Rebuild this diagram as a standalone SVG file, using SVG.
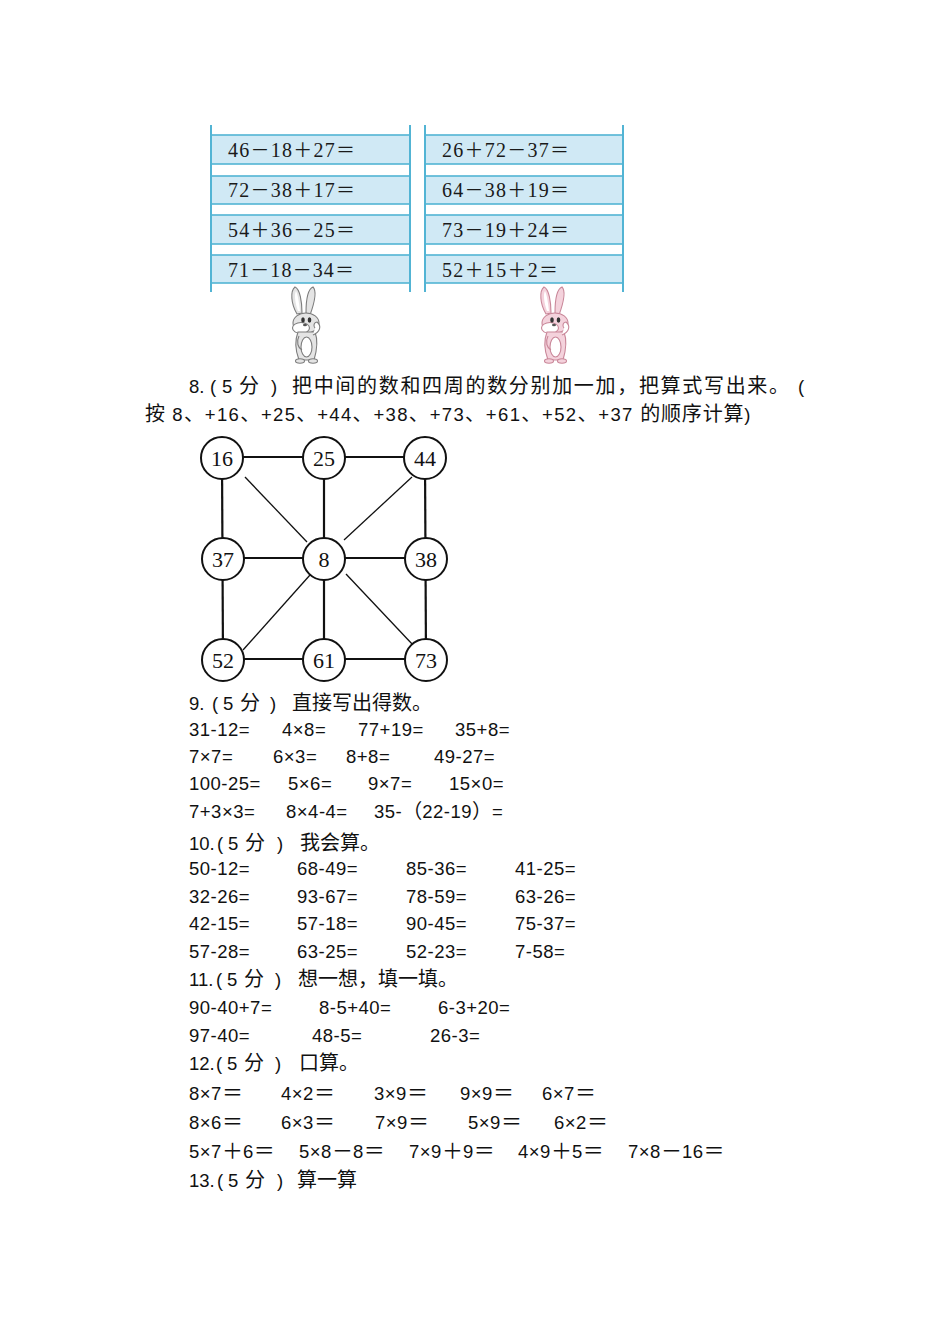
<svg xmlns="http://www.w3.org/2000/svg" xmlns:xlink="http://www.w3.org/1999/xlink" width="950" height="1344" viewBox="0 0 950 1344">
<style>
.band{fill:#d0e9f5;stroke:#52b4d4;stroke-width:1.6}
.vline{stroke:#52b4d4;stroke-width:2}
.tx{font-family:"Liberation Serif","Noto Sans CJK SC",serif;font-size:20px;fill:#1a1a1a}
.op{font-family:"Noto Sans CJK SC",sans-serif;font-size:19px}
.body{font-family:"Liberation Sans","Noto Sans CJK SC",sans-serif;font-size:18.5px;letter-spacing:0.5px;fill:#111}
.hd{letter-spacing:0}
.cjk{font-family:"Noto Sans CJK SC",sans-serif;font-size:20px;letter-spacing:0}
.fw{font-family:"Noto Sans CJK SC",sans-serif;font-size:21px;letter-spacing:0}
.thick{stroke:#111;stroke-width:2.2}
.thin{stroke:#111;stroke-width:1.3}
.node circle{fill:#fff;stroke:#111;stroke-width:2}
.node text{font-family:"Liberation Serif",serif;font-size:22px;text-anchor:middle;fill:#111}
</style>
<defs>
<g id="rabbit">
<path d="M10,28 C4,18 3,5 8,1 C13,3 15,16 15,27 Z"/>
<path d="M11,25 C8,17 7,8 9,5 C11,9 12,17 13,25 Z" fill="#fff" stroke="none"/>
<path d="M19,27 C19,14 21,3 26,1 C30,5 27,18 23,29 Z"/>
<ellipse cx="19" cy="37" rx="13" ry="10"/>
<ellipse cx="14" cy="42" rx="8.5" ry="5.5" fill="#fff"/>
<ellipse cx="16" cy="34" rx="1.8" ry="2.8" fill="#333" stroke="none"/>
<ellipse cx="22.5" cy="34" rx="1.8" ry="2.8" fill="#333" stroke="none"/>
<ellipse cx="18" cy="39" rx="2" ry="1.3" fill="#555" stroke="none"/>
<path d="M11,46 C7,56 9,66 12,74 L27,74 C30,64 31,54 28,46 Z"/>
<ellipse cx="19.5" cy="61" rx="5.5" ry="10" fill="#fff"/>
<path d="M26,49 C33,46 35,40 30,36 C27,36 26,40 28,42" fill="#fff"/>
<path d="M12,50 C9,56 11,62 15,64" fill="none"/>
<ellipse cx="13" cy="75" rx="4.5" ry="2.2"/>
<ellipse cx="26" cy="75" rx="4.5" ry="2.2"/>
</g>
</defs>
<rect width="950" height="1344" fill="#fff"/>

<g id="table-left">
<rect class="band" x="211" y="135" width="199" height="29"/>
<rect class="band" x="211" y="176" width="199" height="28"/>
<rect class="band" x="211" y="215" width="199" height="29"/>
<rect class="band" x="211" y="255" width="199" height="28"/>
<line class="vline" x1="211" y1="125" x2="211" y2="292"/>
<line class="vline" x1="410" y1="125" x2="410" y2="292"/>
<text class="tx" x="228" y="157" textLength="127">46<tspan class="op">－</tspan>18<tspan class="op">＋</tspan>27<tspan class="op">＝</tspan></text>
<text class="tx" x="228" y="197" textLength="127">72<tspan class="op">－</tspan>38<tspan class="op">＋</tspan>17<tspan class="op">＝</tspan></text>
<text class="tx" x="228" y="237" textLength="127">54<tspan class="op">＋</tspan>36<tspan class="op">－</tspan>25<tspan class="op">＝</tspan></text>
<text class="tx" x="228" y="277" textLength="126">71<tspan class="op">－</tspan>18<tspan class="op">－</tspan>34<tspan class="op">＝</tspan></text>
</g>
<g id="table-right">
<rect class="band" x="425" y="135" width="198" height="29"/>
<rect class="band" x="425" y="176" width="198" height="28"/>
<rect class="band" x="425" y="215" width="198" height="29"/>
<rect class="band" x="425" y="255" width="198" height="28"/>
<line class="vline" x1="425" y1="125" x2="425" y2="292"/>
<line class="vline" x1="623" y1="125" x2="623" y2="292"/>
<text class="tx" x="442" y="157" textLength="127">26<tspan class="op">＋</tspan>72<tspan class="op">－</tspan>37<tspan class="op">＝</tspan></text>
<text class="tx" x="442" y="197" textLength="127">64<tspan class="op">－</tspan>38<tspan class="op">＋</tspan>19<tspan class="op">＝</tspan></text>
<text class="tx" x="442" y="237" textLength="127">73<tspan class="op">－</tspan>19<tspan class="op">＋</tspan>24<tspan class="op">＝</tspan></text>
<text class="tx" x="442" y="277" textLength="116">52<tspan class="op">＋</tspan>15<tspan class="op">＋</tspan>2<tspan class="op">＝</tspan></text>
</g>
<g id="rabbit-gray"><use xlink:href="#rabbit" href="#rabbit" x="287" y="286" fill="#e4e4e4" stroke="#7d7d7d" stroke-width="1.1"/></g>
<g id="rabbit-pink"><use xlink:href="#rabbit" href="#rabbit" x="536" y="286" fill="#f4d2dc" stroke="#c98799" stroke-width="1.1"/></g>

<g id="q8" class="body">
<text y="393"><tspan x="189" class="hd">8.</tspan><tspan x="210">(</tspan><tspan x="222">5</tspan><tspan x="239" class="cjk">分</tspan><tspan x="271">)</tspan><tspan x="292" class="cjk" textLength="497" lengthAdjust="spacing">把中间的数和四周的数分别加一加，把算式写出来。</tspan><tspan x="798">(</tspan></text>
<text y="421" x="145" textLength="606" lengthAdjust="spacing"><tspan class="cjk">按</tspan> 8<tspan class="cjk">、</tspan>+16<tspan class="cjk">、</tspan>+25<tspan class="cjk">、</tspan>+44<tspan class="cjk">、</tspan>+38<tspan class="cjk">、</tspan>+73<tspan class="cjk">、</tspan>+61<tspan class="cjk">、</tspan>+52<tspan class="cjk">、</tspan>+37 <tspan class="cjk">的顺序计算</tspan>)</text>
</g>

<g id="connectors">
<line class="thick" x1="222" y1="457" x2="425" y2="457"/>
<line class="thick" x1="223" y1="558" x2="426" y2="558"/>
<line class="thick" x1="223" y1="659" x2="426" y2="659"/>
<line class="thick" x1="222" y1="458" x2="223" y2="660"/>
<line class="thick" x1="324" y1="458" x2="324" y2="660"/>
<line class="thick" x1="425" y1="458" x2="426" y2="660"/>
<line class="thin" x1="245" y1="477" x2="307" y2="542"/>
<line class="thin" x1="412" y1="477" x2="344" y2="540"/>
<line class="thin" x1="310" y1="575" x2="243" y2="650"/>
<line class="thin" x1="346" y1="574" x2="413" y2="645"/>
</g>
<g id="n16" class="node"><circle cx="222" cy="458" r="21"/><text x="222" y="466">16</text></g>
<g id="n25" class="node"><circle cx="324" cy="458" r="21"/><text x="324" y="466">25</text></g>
<g id="n44" class="node"><circle cx="425" cy="458" r="21"/><text x="425" y="466">44</text></g>
<g id="n37" class="node"><circle cx="223" cy="559" r="21"/><text x="223" y="567">37</text></g>
<g id="n8" class="node"><circle cx="324" cy="559" r="21"/><text x="324" y="567">8</text></g>
<g id="n38" class="node"><circle cx="426" cy="559" r="21"/><text x="426" y="567">38</text></g>
<g id="n52" class="node"><circle cx="223" cy="660" r="21"/><text x="223" y="668">52</text></g>
<g id="n61" class="node"><circle cx="324" cy="660" r="21"/><text x="324" y="668">61</text></g>
<g id="n73" class="node"><circle cx="426" cy="660" r="21"/><text x="426" y="668">73</text></g>

<g id="q9" class="body">
<text y="710"><tspan x="189" class="hd">9.</tspan><tspan x="212">(</tspan><tspan x="223">5</tspan><tspan x="240" class="cjk">分</tspan><tspan x="270">)</tspan><tspan x="292" class="cjk">直接写出得数。</tspan></text>
<text y="736"><tspan x="189">31-12=</tspan><tspan x="282">4×8=</tspan><tspan x="358">77+19=</tspan><tspan x="455">35+8=</tspan></text>
<text y="763"><tspan x="189">7×7=</tspan><tspan x="273">6×3=</tspan><tspan x="346">8+8=</tspan><tspan x="434">49-27=</tspan></text>
<text y="790"><tspan x="189">100-25=</tspan><tspan x="288">5×6=</tspan><tspan x="368">9×7=</tspan><tspan x="449">15×0=</tspan></text>
<text y="818"><tspan x="189">7+3×3=</tspan><tspan x="286">8×4-4=</tspan><tspan x="374">35-<tspan class="cjk">（</tspan>22-19<tspan class="cjk">）</tspan>=</tspan></text>
</g>

<g id="q10" class="body">
<text y="850"><tspan x="189" class="hd">10.</tspan><tspan x="217">(</tspan><tspan x="228">5</tspan><tspan x="245" class="cjk">分</tspan><tspan x="277">)</tspan><tspan x="300" class="cjk">我会算。</tspan></text>
<text y="875"><tspan x="189">50-12=</tspan><tspan x="297">68-49=</tspan><tspan x="406">85-36=</tspan><tspan x="515">41-25=</tspan></text>
<text y="903"><tspan x="189">32-26=</tspan><tspan x="297">93-67=</tspan><tspan x="406">78-59=</tspan><tspan x="515">63-26=</tspan></text>
<text y="930"><tspan x="189">42-15=</tspan><tspan x="297">57-18=</tspan><tspan x="406">90-45=</tspan><tspan x="515">75-37=</tspan></text>
<text y="958"><tspan x="189">57-28=</tspan><tspan x="297">63-25=</tspan><tspan x="406">52-23=</tspan><tspan x="515">7-58=</tspan></text>
</g>

<g id="q11" class="body">
<text y="986"><tspan x="189" class="hd">11.</tspan><tspan x="216">(</tspan><tspan x="227">5</tspan><tspan x="244" class="cjk">分</tspan><tspan x="275">)</tspan><tspan x="298" class="cjk">想一想，填一填。</tspan></text>
<text y="1014"><tspan x="189">90-40+7=</tspan><tspan x="319">8-5+40=</tspan><tspan x="438">6-3+20=</tspan></text>
<text y="1042"><tspan x="189">97-40=</tspan><tspan x="312">48-5=</tspan><tspan x="430">26-3=</tspan></text>
</g>

<g id="q12" class="body">
<text y="1070"><tspan x="189" class="hd">12.</tspan><tspan x="216">(</tspan><tspan x="227">5</tspan><tspan x="244" class="cjk">分</tspan><tspan x="275">)</tspan><tspan x="299" class="cjk">口算。</tspan></text>
<text y="1100"><tspan x="189">8×7<tspan class="fw">＝</tspan></tspan><tspan x="281">4×2<tspan class="fw">＝</tspan></tspan><tspan x="374">3×9<tspan class="fw">＝</tspan></tspan><tspan x="460">9×9<tspan class="fw">＝</tspan></tspan><tspan x="542">6×7<tspan class="fw">＝</tspan></tspan></text>
<text y="1129"><tspan x="189">8×6<tspan class="fw">＝</tspan></tspan><tspan x="281">6×3<tspan class="fw">＝</tspan></tspan><tspan x="375">7×9<tspan class="fw">＝</tspan></tspan><tspan x="468">5×9<tspan class="fw">＝</tspan></tspan><tspan x="554">6×2<tspan class="fw">＝</tspan></tspan></text>
<text y="1158"><tspan x="189">5×7<tspan class="fw">＋</tspan>6<tspan class="fw">＝</tspan></tspan><tspan x="299">5×8<tspan class="fw">－</tspan>8<tspan class="fw">＝</tspan></tspan><tspan x="409">7×9<tspan class="fw">＋</tspan>9<tspan class="fw">＝</tspan></tspan><tspan x="518">4×9<tspan class="fw">＋</tspan>5<tspan class="fw">＝</tspan></tspan><tspan x="628">7×8<tspan class="fw">－</tspan>16<tspan class="fw">＝</tspan></tspan></text>
</g>

<g id="q13" class="body">
<text y="1187"><tspan x="189" class="hd">13.</tspan><tspan x="217">(</tspan><tspan x="228">5</tspan><tspan x="245" class="cjk">分</tspan><tspan x="277">)</tspan><tspan x="297" class="cjk">算一算</tspan></text>
</g>
</svg>
